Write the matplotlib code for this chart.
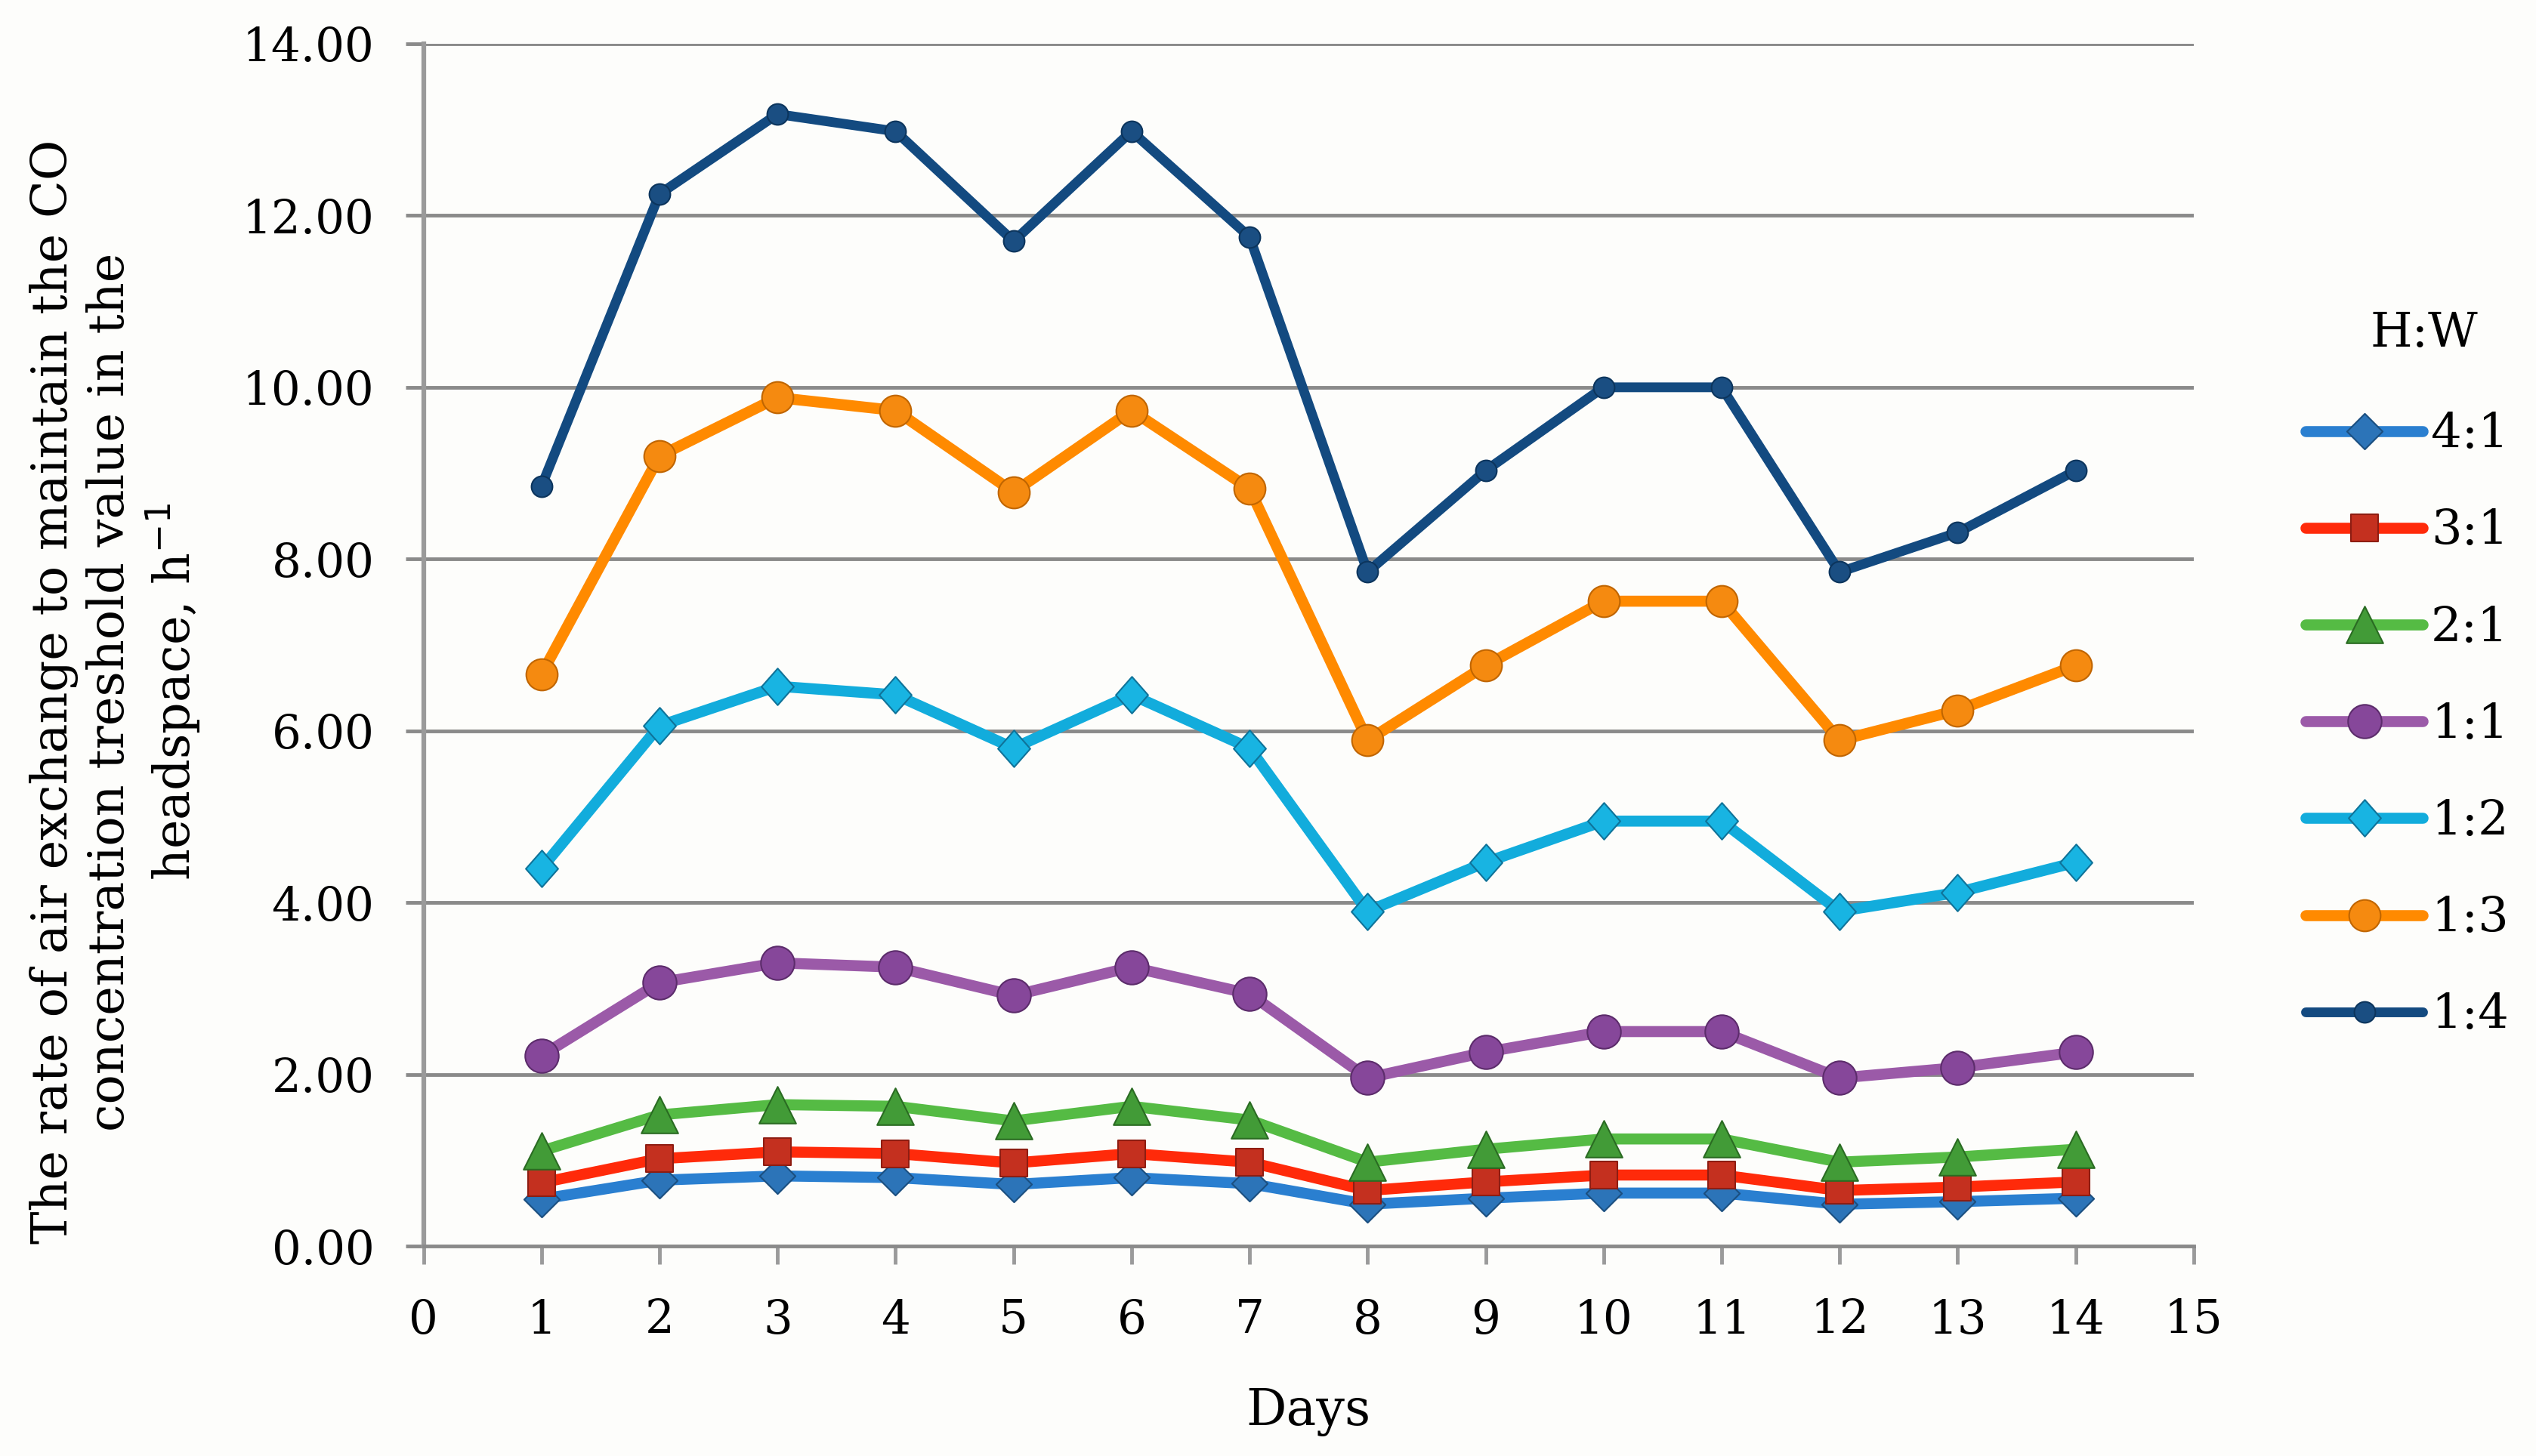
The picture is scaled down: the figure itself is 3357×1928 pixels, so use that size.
import numpy as np
import matplotlib
matplotlib.use('Agg')
import matplotlib.pyplot as plt
from matplotlib.path import Path

# data
days = [1, 2, 3, 4, 5, 6, 7, 8, 9, 10, 11, 12, 13, 14]
r_4_1 = [0.55, 0.77, 0.82, 0.80, 0.72, 0.80, 0.73, 0.49, 0.56, 0.62, 0.62, 0.49, 0.52, 0.56]
r_3_1 = [0.74, 1.02, 1.10, 1.08, 0.97, 1.08, 0.98, 0.65, 0.75, 0.83, 0.83, 0.65, 0.69, 0.75]
r_2_1 = [1.11, 1.53, 1.65, 1.63, 1.46, 1.63, 1.47, 0.98, 1.13, 1.25, 1.25, 0.98, 1.04, 1.13]
r_1_1 = [2.22, 3.07, 3.30, 3.25, 2.92, 3.25, 2.94, 1.96, 2.26, 2.50, 2.50, 1.96, 2.08, 2.26]
r_1_2 = [4.40, 6.06, 6.52, 6.42, 5.80, 6.42, 5.80, 3.90, 4.47, 4.95, 4.95, 3.90, 4.12, 4.47]
r_1_3 = [6.66, 9.20, 9.88, 9.73, 8.78, 9.73, 8.82, 5.89, 6.76, 7.51, 7.51, 5.89, 6.24, 6.76]
r_1_4 = [8.85, 12.25, 13.18, 12.98, 11.70, 12.98, 11.75, 7.85, 9.03, 10.00, 10.00, 7.85, 8.31, 9.03]
labels = ['4:1', '3:1', '2:1', '1:1', '1:2', '1:3', '1:4']
yticks = [0, 2, 4, 6, 8, 10, 12, 14]

def poly(verts, sx=1.0):
    v = [(x * sx, y) for x, y in verts]
    return Path(v + [v[0]], [Path.MOVETO] + [Path.LINETO] * (len(v) - 1) + [Path.CLOSEPOLY])

dia = [(0, 1), (1, 0), (0, -1), (-1, 0)]
sq = [(-1, -1), (1, -1), (1, 1), (-1, 1)]
tri = [(0, 1), (1, -1), (-1, -1)]

# line colour, marker face, marker edge, marker, marker size
styles = [
    ('#2a7fd0', '#2c74b8', '#1b4f80', poly(dia, 1.0), 34),
    ('#ff2a0a', '#c4301f', '#8e1d12', poly(sq), 26),
    ('#55bb44', '#429b37', '#2a6b22', poly(tri), 35),
    ('#9b5aa8', '#86479a', '#5c2c6b', 'o', 32),
    ('#12acdc', '#18b4e2', '#0f7399', poly(dia, 0.88), 35),
    ('#ff8a00', '#f58a10', '#c06500', 'o', 30),
    ('#134a80', '#1a4e82', '#0c355d', 'o', 20),
]
series = [r_4_1, r_3_1, r_2_1, r_1_1, r_1_2, r_1_3, r_1_4]
lws = [10.5, 10.5, 10.5, 10.5, 10.5, 10.5, 9.3]

fig = plt.figure(figsize=(33.57, 19.28), dpi=100, facecolor='#fdfdfb')
ax = fig.add_axes([0.167, 0.144, 0.698, 0.826])
ax.set_facecolor('#fdfdfb')

lines = []
for vals, (lc, mf, me, mk, ms), lw, lab in zip(series, styles, lws, labels):
    ln, = ax.plot(days, vals, color=lc, lw=lw, marker=mk, markersize=ms,
                  markerfacecolor=mf, markeredgecolor=me, markeredgewidth=1.5,
                  solid_joinstyle='round', solid_capstyle='round', label=lab, zorder=3)
    lines.append(ln)

ax.set_xlim(0, 15)
ax.set_ylim(0, 14)
ax.set_xticks(range(0, 16))
ax.set_yticks(yticks)
ax.set_yticklabels(['%.2f' % v for v in yticks])
ax.yaxis.grid(True, color='#8a8a8a', lw=3.5)
ax.set_axisbelow(True)
for s in ['top', 'right']:
    ax.spines[s].set_visible(False)
ax.spines['left'].set_color('#9a9a9a')
ax.spines['left'].set_linewidth(4.5)
ax.spines['bottom'].set_color('#8a8a8a')
ax.spines['bottom'].set_linewidth(3.5)
ax.tick_params(axis='x', length=17, width=3.5, color='#9a9a9a', pad=32,
               labelsize=44, labelfontfamily='DejaVu Serif')
ax.tick_params(axis='y', length=17, width=3.5, color='#8a8a8a', pad=30,
               labelsize=44, labelfontfamily='DejaVu Serif')

ax.set_xlabel('Days', fontsize=48, family='DejaVu Serif', labelpad=42)
ax.set_ylabel('The rate of air exchange to maintain the CO\nconcentration treshold value in the\nheadspace, h$^{-1}$',
              fontsize=47, family='DejaVu Serif', linespacing=1.2)
ax.yaxis.set_label_coords(-0.125, 0.461)

fig.text(0.956, 0.771, 'H:W', fontsize=46, family='DejaVu Serif', ha='center', va='center')
leg = fig.legend(handles=lines, loc='center left', bbox_to_anchor=(0.892, 0.502),
                 frameon=False, handlelength=2.43, handletextpad=0.17, labelspacing=1.05,
                 prop={'family': 'DejaVu Serif', 'size': 46})

fig.savefig('out.png', dpi=100, facecolor=fig.get_facecolor())
